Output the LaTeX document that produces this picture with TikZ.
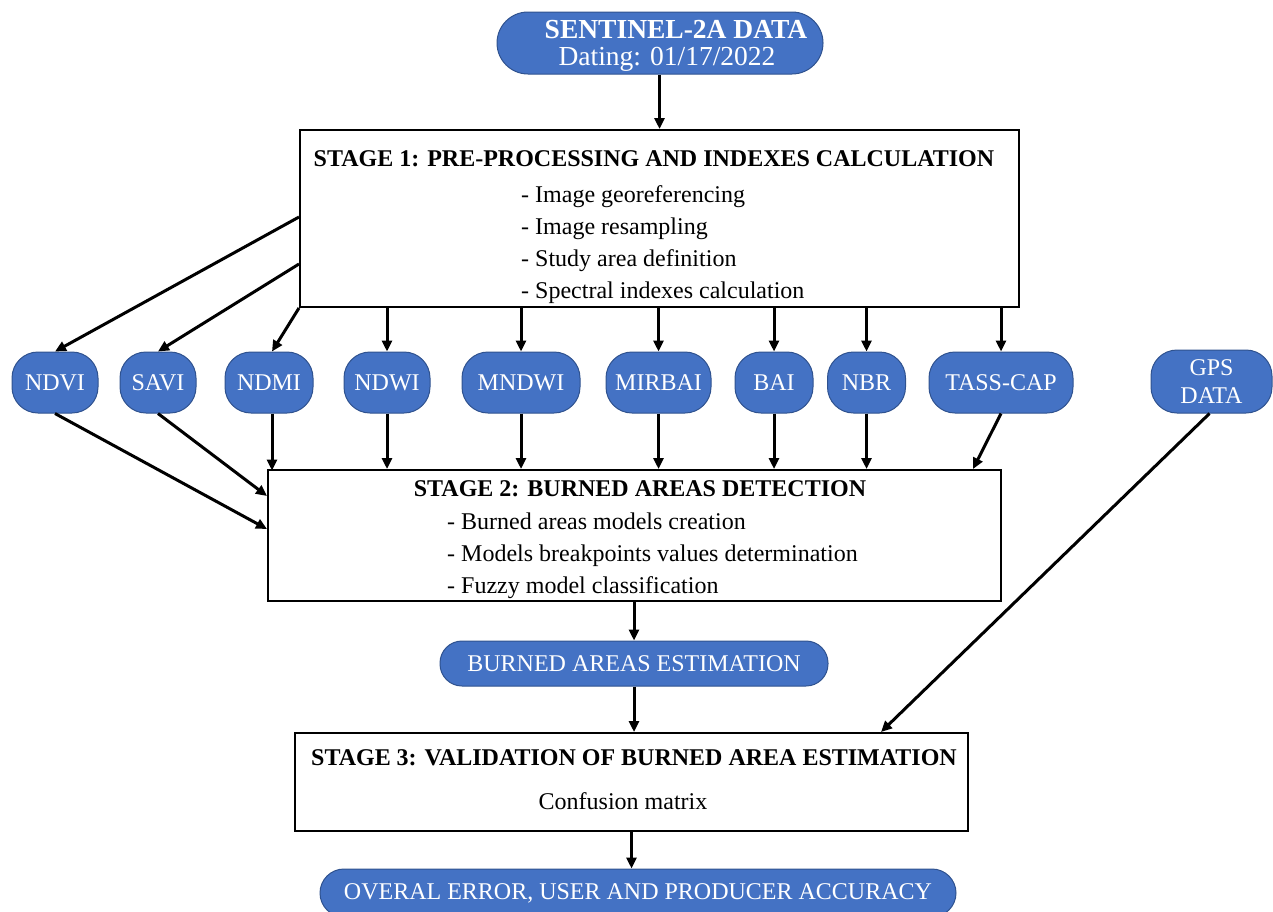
\documentclass[tikz,border=0pt]{standalone}
\usepackage{fontspec}
\setmainfont{Liberation Serif}
\usetikzlibrary{arrows.meta,calc}
\definecolor{pillblue}{HTML}{4472C4}
\definecolor{pilledge}{HTML}{2F528F}
\tikzset{
  pill/.style={draw=pilledge, line width=1pt, fill=pillblue, text=white, rounded corners=#1, inner sep=0pt, font=\fontsize{24}{28}\selectfont, align=center},
  pill/.default=24pt,
  stagebox/.style={draw=black, line width=2pt, fill=white, inner sep=0pt},
  stagetitle/.style={font=\fontsize{24}{28}\selectfont\bfseries, inner sep=0pt},
  stagelist/.style={font=\fontsize{24}{32}\selectfont, align=left, inner sep=0pt, anchor=west},
  arr/.style={draw=black, line width=3pt, -{Triangle[length=11pt,width=10pt]}},
}
\begin{document}
\begin{tikzpicture}[x=1pt,y=-1pt]
\useasboundingbox (0,0) rectangle (1273,911);
% top
\node[pill=31pt, minimum width=326pt, minimum height=62pt] (sent) at (660,43) {};
\node[text=white, font=\fontsize{27.5}{30}\selectfont\bfseries, inner sep=0pt] (senttitle) at (676,30) {SENTINEL-2A DATA};
\node[text=white, font=\fontsize{27.5}{30}\selectfont, inner sep=0pt] (sentdate) at (667,59) {Dating: 01/17/2022};
% stage 1
\node[stagebox, minimum width=719pt, minimum height=177pt] (s1) at (659.5,218.5) {};
\node[stagetitle] (s1title) at (654,159) {STAGE 1: PRE-PROCESSING AND INDEXES CALCULATION};
\node[stagelist] (s1list) at (521,245) {- Image georeferencing\\- Image resampling\\- Study area definition\\- Spectral indexes calculation};
% indices
\node[pill=26pt, minimum width=86pt, minimum height=61pt] (ndvi) at (55,382.5) {NDVI};
\node[pill=26pt, minimum width=76pt, minimum height=61pt] (savi) at (158,382.5) {SAVI};
\node[pill=26pt, minimum width=88pt, minimum height=61pt] (ndmi) at (269,382.5) {NDMI};
\node[pill=26pt, minimum width=86pt, minimum height=61pt] (ndwi) at (387,382.5) {NDWI};
\node[pill=26pt, minimum width=118pt, minimum height=61pt] (mndwi) at (521,382.5) {MNDWI};
\node[pill=26pt, minimum width=105pt, minimum height=61pt] (mirbai) at (658.5,382.5) {MIRBAI};
\node[pill=26pt, minimum width=78pt, minimum height=61pt] (bai) at (774,382.5) {BAI};
\node[pill=26pt, minimum width=78pt, minimum height=61pt] (nbr) at (866.5,382.5) {NBR};
\node[pill=26pt, minimum width=144pt, minimum height=61pt] (tass) at (1001,382.5) {TASS-CAP};
\node[pill=26pt, minimum width=121pt, minimum height=63pt] (gps) at (1211.5,381.5) {GPS\\DATA};
% stage 2
\node[stagebox, minimum width=733pt, minimum height=131pt] (s2) at (634.5,535.5) {};
\node[stagetitle] (s2title) at (640,489) {STAGE 2: BURNED AREAS DETECTION};
\node[stagelist] (s2list) at (447,556) {- Burned areas models creation\\- Models breakpoints values determination\\- Fuzzy model classification};
% burned areas estimation
\node[pill=22pt, minimum width=388pt, minimum height=45pt] (bae) at (634,663.5) {BURNED AREAS ESTIMATION};
% stage 3
\node[stagebox, minimum width=673pt, minimum height=98pt] (s3) at (631.5,782) {};
\node[stagetitle] (s3title) at (634,758) {STAGE 3: VALIDATION OF BURNED AREA ESTIMATION};
\node[font=\fontsize{24}{28}\selectfont, inner sep=0pt] (s3text) at (623,801) {Confusion matrix};
% final
\node[pill=24pt, minimum width=636pt, minimum height=48pt] (final) at (638,893) {OVERAL ERROR, USER AND PRODUCER ACCURACY};
% arrows
\draw[arr] (sent.south -| s1.north) -- (s1.north);
\draw[arr] ($(s1.north west)+(0,88)$) -- (ndvi.north);
\draw[arr] ($(s1.north west)+(0,135)$) -- (savi.north);
\draw[arr] (s1.south west) -- ($(ndmi.north)+(3,0)$);
\draw[arr] (ndwi |- s1.south) -- (ndwi.north);
\draw[arr] (mndwi |- s1.south) -- (mndwi.north);
\draw[arr] (mirbai |- s1.south) -- (mirbai.north);
\draw[arr] (bai |- s1.south) -- (bai.north);
\draw[arr] (nbr |- s1.south) -- (nbr.north);
\draw[arr] (tass |- s1.south) -- (tass.north);
\draw[arr] (ndvi.south) -- ($(s2.north west)+(0,60)$);
\draw[arr] (savi.south) -- ($(s2.north west)+(0,27)$);
\draw[arr] ($(ndmi.south)+(3,0)$) -- ($(ndmi.south)+(3,57)$);
\draw[arr] (ndwi.south) -- (ndwi |- s2.north);
\draw[arr] (mndwi.south) -- (mndwi |- s2.north);
\draw[arr] (mirbai.south) -- (mirbai |- s2.north);
\draw[arr] (bai.south) -- (bai |- s2.north);
\draw[arr] (nbr.south) -- (nbr |- s2.north);
\draw[arr] (tass.south) -- ($(s2.north east)+(-29,0)$);
\draw[arr] ($(gps.south)+(-2,0)$) -- ($(s3.north east)+(-88,0)$);
\draw[arr] (bae |- s2.south) -- (bae.north);
\draw[arr] (bae.south) -- (bae |- s3.north);
\draw[arr] (s3.south) -- (s3.south |- final.north);
\end{tikzpicture}
\end{document}
